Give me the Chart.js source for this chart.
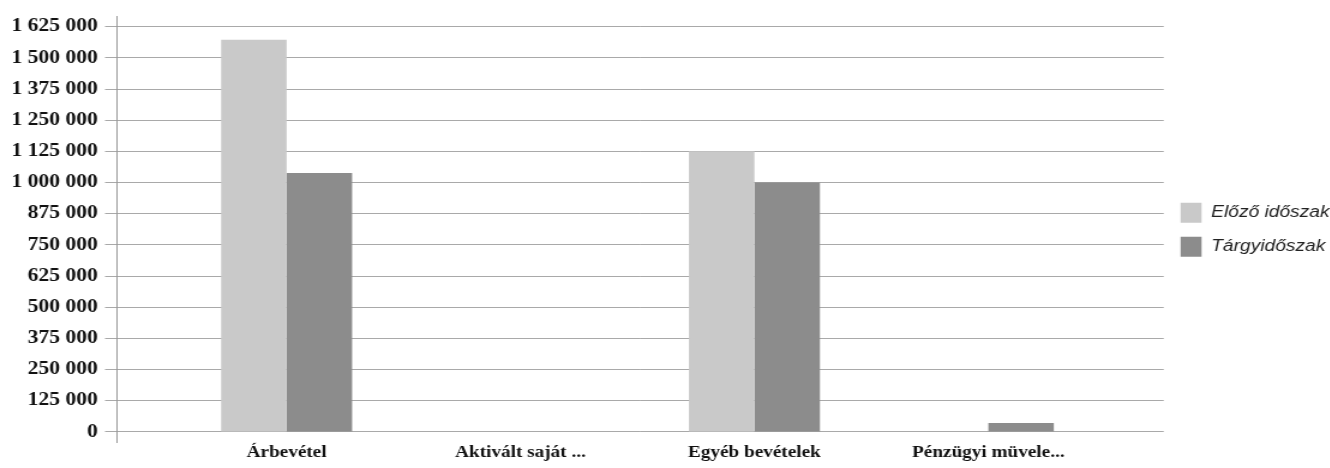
<!DOCTYPE html>
<html>
<head>
<meta charset="utf-8">
<script src="https://cdn.jsdelivr.net/npm/chart.js@4"></script>
<style>
  html, body { margin: 0; padding: 0; background: #fff; overflow: hidden; }
  /* the scanned original is stretched sideways, so the canvas gets the same stretch */
  #wrap { width: 1118px; height: 468px; transform: scaleX(1.2); transform-origin: 0 0; }
</style>
</head>
<body>
<div id="wrap"><canvas id="bar"></canvas></div>
<script>
const categories = ["Árbevétel", "Aktivált saját ...", "Egyéb bevételek", "Pénzügyi müvele..."]
const elozoIdoszak = [1573000, 0, 1125000, 0]
const targyIdoszak = [1038000, 0, 1000000, 36000]
const yTicks = [0, 125000, 250000, 375000, 500000, 625000, 750000, 875000, 1000000, 1125000, 1250000, 1375000, 1500000, 1625000]

function fmt(v) {
    return String(v).replace(/\B(?=(\d{3})+(?!\d))/g, ' ')
}

document.addEventListener('DOMContentLoaded', function () {
    const data = {
        datasets: [
            {
                label: 'Előző időszak',
                data: elozoIdoszak.map((v, i) => ({ x: i, y: v })),
                backgroundColor: '#c9c9c9',
                borderWidth: 0
            },
            {
                label: 'Tárgyidőszak',
                data: targyIdoszak.map((v, i) => ({ x: i, y: v })),
                backgroundColor: '#8c8c8c',
                borderWidth: 0
            }
        ]
    };
    const serif = { family: '"Liberation Serif", "Times New Roman", serif', weight: 'bold' }
    const config = {
        type: 'bar',
        data: data,
        options: {
            responsive: true,
            maintainAspectRatio: false,
            animation: false,
            categoryPercentage: 0.56,
            barPercentage: 1,
            layout: {
                padding: { top: 12, left: 3.5, right: 0, bottom: 6 }
            },
            scales: {
                x: {
                    type: 'linear',
                    offset: false,
                    min: -0.725,
                    max: 3.75,
                    afterBuildTicks: s => { s.ticks = categories.map((c, i) => ({ value: i })) },
                    ticks: {
                        callback: v => categories[v],
                        autoSkip: false,
                        maxRotation: 0,
                        padding: 0,
                        color: '#111',
                        font: { ...serif, size: 16 }
                    },
                    grid: { display: false, drawTicks: false },
                    border: { display: false }
                },
                y: {
                    min: -43600,
                    max: 1664600,
                    afterBuildTicks: s => { s.ticks = yTicks.map(v => ({ value: v })) },
                    ticks: {
                        callback: v => fmt(v),
                        padding: 6,
                        color: '#111',
                        font: { ...serif, size: 18 }
                    },
                    grid: { color: '#a9a9a9', tickColor: '#a9a9a9', tickLength: 10 },
                    border: { color: '#9a9a9a' }
                }
            },
            plugins: {
                legend: {
                    position: 'right',
                    fullSize: false,
                    labels: {
                        boxWidth: 17.5,
                        boxHeight: 20,
                        padding: 14,
                        color: '#222',
                        font: { family: '"Liberation Sans", Arial, sans-serif', style: 'italic', size: 16 }
                    }
                },
                tooltip: { enabled: false }
            }
        }
    };
    var myChart = new Chart(document.getElementById('bar'), config);
})
</script>
</body>
</html>
